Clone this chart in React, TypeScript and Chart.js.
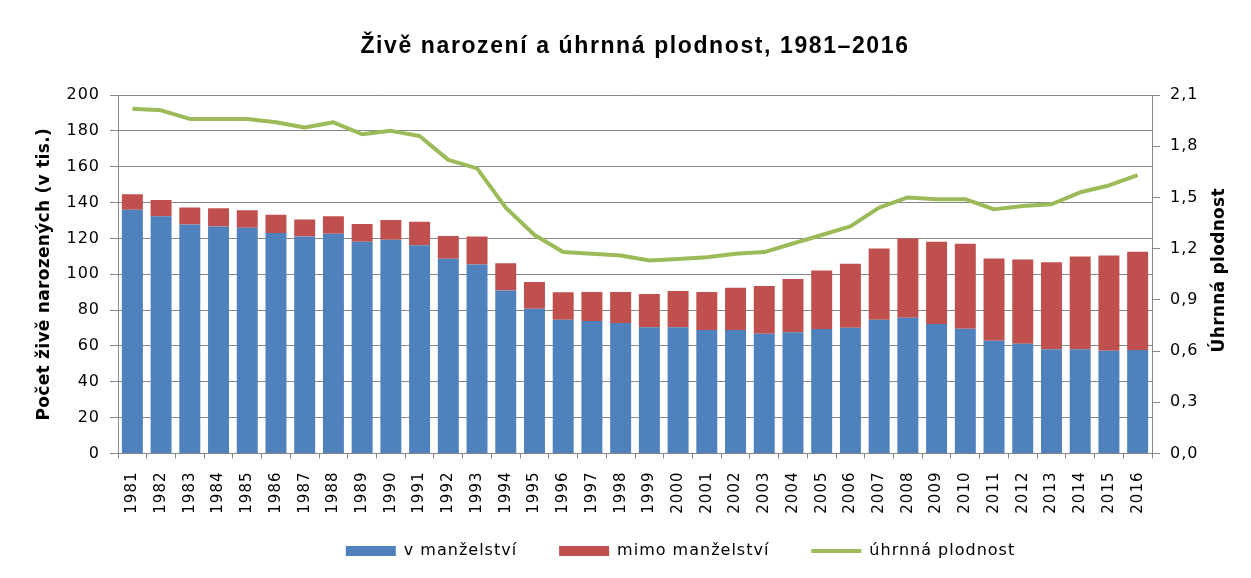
import React, { useEffect, useRef } from 'react';
import { Chart, registerables } from 'chart.js';

Chart.register(...registerables);

const TITLE = 'Živě narození a úhrnná plodnost, 1981–2016';
const LEFT_TITLE = 'Počet živě narozených (v tis.)';
const RIGHT_TITLE = 'Úhrnná plodnost';

const years = [
  '1981', '1982', '1983', '1984', '1985', '1986', '1987', '1988', '1989', '1990',
  '1991', '1992', '1993', '1994', '1995', '1996', '1997', '1998', '1999', '2000',
  '2001', '2002', '2003', '2004', '2005', '2006', '2007', '2008', '2009', '2010',
  '2011', '2012', '2013', '2014', '2015', '2016',
];

// births within marriage (thousands)
const inMarriage = [
  136.0, 132.3, 127.8, 126.7, 126.0, 123.0, 121.1, 122.6, 118.1, 119.2,
  116.2, 108.6, 105.4, 90.9, 80.8, 74.6, 73.9, 72.8, 70.5, 70.5,
  68.9, 68.9, 66.8, 67.7, 69.4, 70.2, 74.6, 75.8, 72.2, 69.6,
  62.9, 61.2, 58.2, 58.2, 57.3, 57.7,
];

// births outside marriage (thousands)
const outsideMarriage = [
  8.6, 9.1, 9.4, 10.1, 9.7, 10.2, 9.5, 9.7, 9.9, 11.0,
  13.1, 12.7, 15.7, 15.3, 14.9, 15.3, 16.2, 17.3, 18.5, 20.2,
  21.2, 23.6, 26.7, 29.7, 32.7, 35.6, 39.8, 44.2, 45.9, 47.4,
  45.9, 47.0, 48.5, 51.7, 53.2, 54.8,
];

// total fertility rate
const fertility = [
  2.02, 2.01, 1.96, 1.96, 1.96, 1.94, 1.91, 1.94, 1.87, 1.89,
  1.86, 1.72, 1.67, 1.44, 1.28, 1.18, 1.17, 1.16, 1.13, 1.14,
  1.15, 1.17, 1.18, 1.23, 1.28, 1.33, 1.44, 1.50, 1.49, 1.49,
  1.43, 1.45, 1.46, 1.53, 1.57, 1.63,
];

const seriesLabels = ['v manželství', 'mimo manželství', 'úhrnná plodnost'];

const BLUE = '#4F81BD';
const RED = '#C0504D';
const GREEN = '#9BBB59';
const GRID = '#868686';
const TEXT = '#000000';

function spacingFor(f: string): string {
  if (f.includes('Liberation Sans') && f.includes('bold') && f.includes('23px')) return '1.6px';
  if (f.includes('DejaVu')) {
    if (f.includes('bold')) return '0.3px';
    if (f.startsWith('normal')) return '1px';
    return '2px';
  }
  return '0px';
}

function patchLetterSpacing(ctx: CanvasRenderingContext2D) {
  const desc = Object.getOwnPropertyDescriptor(CanvasRenderingContext2D.prototype, 'font');
  if (!desc || !desc.set || !desc.get || !('letterSpacing' in ctx)) return;
  Object.defineProperty(ctx, 'font', {
    configurable: true,
    get() {
      return desc.get!.call(this);
    },
    set(v: string) {
      desc.set!.call(this, v);
      (this as any).letterSpacing = spacingFor(String(v));
    },
  });
}

// tick labels may extend outside their (fixed-size) scale boxes
const noLabelClip = (s: any) => {
  s._computeLabelArea = () => undefined;
};

const axisTitlesPlugin = {
  id: 'axisTitles',
  afterDraw(chart: any) {
    const { ctx, chartArea } = chart;
    const cy = (chartArea.top + chartArea.bottom) / 2;
    ctx.save();
    ctx.fillStyle = TEXT;
    ctx.font = 'bold 17px DejaVu Sans';
    ctx.textAlign = 'center';
    ctx.textBaseline = 'middle';
    ctx.save();
    ctx.translate(chartArea.left - 73, cy);
    ctx.rotate(-Math.PI / 2);
    ctx.fillText(LEFT_TITLE, 0, 0);
    ctx.restore();
    ctx.save();
    ctx.translate(chartArea.right + 68, cy - 4);
    ctx.rotate(-Math.PI / 2);
    ctx.fillText(RIGHT_TITLE, 0, 0);
    ctx.restore();
    ctx.restore();
  },
};

export default function App() {
  const ref = useRef<HTMLCanvasElement>(null);

  useEffect(() => {
    document.body.style.margin = '0';
    const canvas = ref.current!;
    const ctx = canvas.getContext('2d')!;
    patchLetterSpacing(ctx);

    const chart = new Chart(canvas, {
      type: 'bar',
      data: {
        labels: years,
        datasets: [
          {
            label: seriesLabels[0],
            data: inMarriage,
            backgroundColor: BLUE,
            borderWidth: 0,
            yAxisID: 'y',
            order: 2,
            barPercentage: 0.73,
            categoryPercentage: 1,
          },
          {
            label: seriesLabels[1],
            data: outsideMarriage,
            backgroundColor: RED,
            borderWidth: 0,
            yAxisID: 'y',
            order: 2,
            barPercentage: 0.73,
            categoryPercentage: 1,
          },
          {
            type: 'line',
            label: seriesLabels[2],
            data: fertility,
            borderColor: GREEN,
            backgroundColor: GREEN,
            borderWidth: 4,
            pointRadius: 0,
            tension: 0,
            borderJoinStyle: 'round',
            yAxisID: 'y1',
            order: 0,
          } as any,
        ],
      },
      options: {
        responsive: false,
        animation: false,
        layout: { padding: { left: 110, right: 0, top: 0, bottom: 9 } },
        plugins: {
          tooltip: { enabled: false },
          title: {
            display: true,
            text: TITLE,
            color: TEXT,
            fullSize: false,
            font: { family: 'Liberation Sans', size: 23, weight: 'bold' },
            padding: { top: 33, bottom: 34.4 },
          },
          legend: {
            position: 'bottom',
            labels: {
              usePointStyle: true,
              pointStyleWidth: 50,
              boxHeight: 10,
              padding: 42,
              color: TEXT,
              font: { family: 'DejaVu Sans', size: 16, weight: 'normal' },
              generateLabels: (c: any) =>
                c.data.datasets.map((ds: any, i: number) => {
                  const isLine = ds.type === 'line';
                  return {
                    text: ds.label,
                    fillStyle: isLine ? ds.borderColor : ds.backgroundColor,
                    strokeStyle: isLine ? ds.borderColor : ds.backgroundColor,
                    lineWidth: isLine ? 4 : 0,
                    pointStyle: isLine ? 'line' : 'rect',
                    hidden: false,
                    datasetIndex: i,
                    fontColor: TEXT,
                  };
                }),
            },
          },
        },
        scales: {
          x: {
            stacked: true,
            offset: true,
            grid: { offset: true, drawOnChartArea: false, tickLength: 5, color: GRID },
            border: { color: GRID },
            ticks: {
              autoSkip: false,
              minRotation: 90,
              maxRotation: 90,
              padding: 13,
              color: TEXT,
              font: { family: 'DejaVu Sans', size: 15 },
            },
            afterFit: (s: any) => {
              s.height = 47.5;
              noLabelClip(s);
            },
          },
          y: {
            position: 'left',
            stacked: true,
            min: 0,
            max: 200,
            ticks: { stepSize: 20, padding: 10, color: TEXT, font: { family: 'DejaVu Sans', size: 16 } },
            grid: { color: GRID, tickLength: 8 },
            border: { color: GRID },
            afterFit: (s: any) => {
              s.width = 8;
              noLabelClip(s);
            },
          },
          y1: {
            position: 'right',
            stacked: false,
            min: 0,
            max: 2.1,
            ticks: {
              stepSize: 0.3,
              padding: 10,
              color: TEXT,
              font: { family: 'DejaVu Sans', size: 16 },
              callback: (v: any) => Number(v).toFixed(1).replace('.', ','),
            },
            grid: { drawOnChartArea: false, color: GRID, tickLength: 8 },
            border: { color: GRID },
            afterFit: (s: any) => {
              s.width = 99;
              noLabelClip(s);
            },
          },
        },
      },
      plugins: [axisTitlesPlugin],
    } as any);

    return () => chart.destroy();
  }, []);

  return (
    <div style={{ width: 1251, height: 578 }}>
      <canvas ref={ref} width={1251} height={578} style={{ display: 'block', width: 1251, height: 578 }} />
    </div>
  );
}
